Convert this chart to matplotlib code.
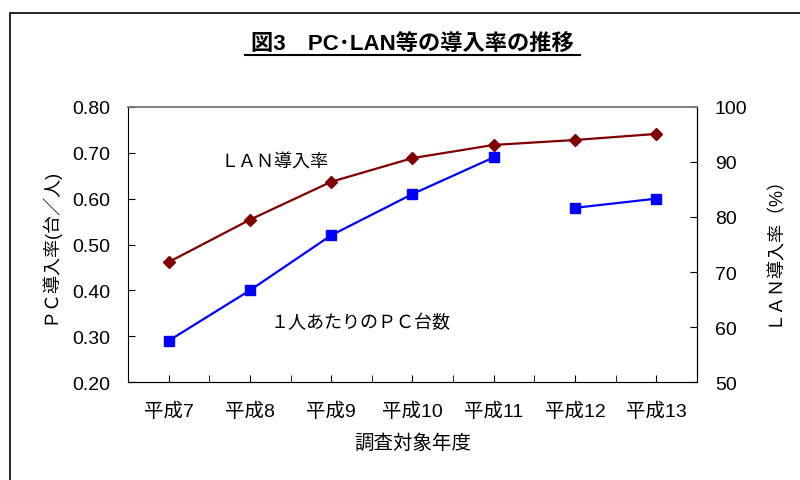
import matplotlib
matplotlib.use("Agg")
import numpy as np
import matplotlib.pyplot as plt
import matplotlib.ticker as mtick
from matplotlib.patches import Rectangle

plt.rcParams['font.family'] = ['Liberation Sans', 'Noto Sans CJK JP', 'DejaVu Sans']

years = ['平成7', '平成8', '平成9', '平成10', '平成11', '平成12', '平成13']
pc_per_person = [0.29, 0.40, 0.52, 0.61, 0.69, 0.58, 0.60]
lan_rate = [71.8, 79.5, 86.4, 90.7, 93.1, 94.0, 95.1]
# the PC series is broken between 平成11 and 平成12
pc_segments = [(0, 5), (5, 7)]

fig = plt.figure(figsize=(8, 4.81), dpi=100)
ax1 = fig.add_axes([0.16, 0.2037, 0.711, 0.5718])
ax2 = ax1.twinx()

x = np.arange(len(years))

ax2.plot(x, lan_rate, color='#800000', lw=1.6, marker='D', ms=6.5,
         zorder=2)
for a, b in pc_segments:
    ax1.plot(x[a:b], pc_per_person[a:b], color='#0000FF', lw=1.6,
             marker='s', ms=7, zorder=3)

ax1.set_zorder(ax2.get_zorder() + 1)
ax1.patch.set_visible(False)

ax1.set_xlim(-0.5, len(years) - 0.5)
ax1.set_ylim(0.2, 0.8)
ax2.set_ylim(50, 100)
ax1.set_yticks(np.arange(0.2, 0.81, 0.1))
ax2.set_yticks(np.arange(50, 101, 10))
ax1.yaxis.set_major_formatter(mtick.FormatStrFormatter('%.2f'))

ax1.set_xticks(x)
ax1.set_xticklabels(years)
ax1.set_xticks(np.arange(-0.5, len(years), 1), minor=True)
ax1.tick_params(axis='x', which='both', direction='in', length=5,
                labelsize=14, pad=14)
ax1.tick_params(axis='y', direction='in', length=5, labelsize=14, pad=13)
ax2.tick_params(axis='y', direction='in', length=5, labelsize=14, pad=13)

for a in (ax1, ax2):
    a.spines['top'].set_color('#808080')
    a.spines['top'].set_linewidth(1.2)
ax2.spines['left'].set_visible(False)

ax1.set_xlabel('調査対象年度', fontsize=14, labelpad=10)
ax1.set_ylabel('ＰＣ導入率(台／人)', fontsize=13, labelpad=10)
ax2.set_ylabel('ＬＡＮ導入率（%）', fontsize=13, labelpad=12,
               rotation=90)

ax1.text(0.64, 0.68, 'ＬＡＮ導入率', fontsize=13, va='center', ha='left')
ax1.text(1.26, 0.33, '１人あたりのＰＣ台数', fontsize=13, va='center',
         ha='left')

fig.text(0.515, 0.905, '図3　PC･LAN等の導入率の推移', fontsize=16,
         fontweight='bold', ha='center', va='center')
# underline under the title
fig.add_artist(plt.Line2D([0.306, 0.725], [0.884, 0.884],
                          color='black', lw=1.5))

fig.add_artist(Rectangle((0.0125, -0.05), 1.05, 1.0211,
                         transform=fig.transFigure, fill=False,
                         edgecolor='black', lw=1.2))

fig.savefig('out.png', dpi=100)
